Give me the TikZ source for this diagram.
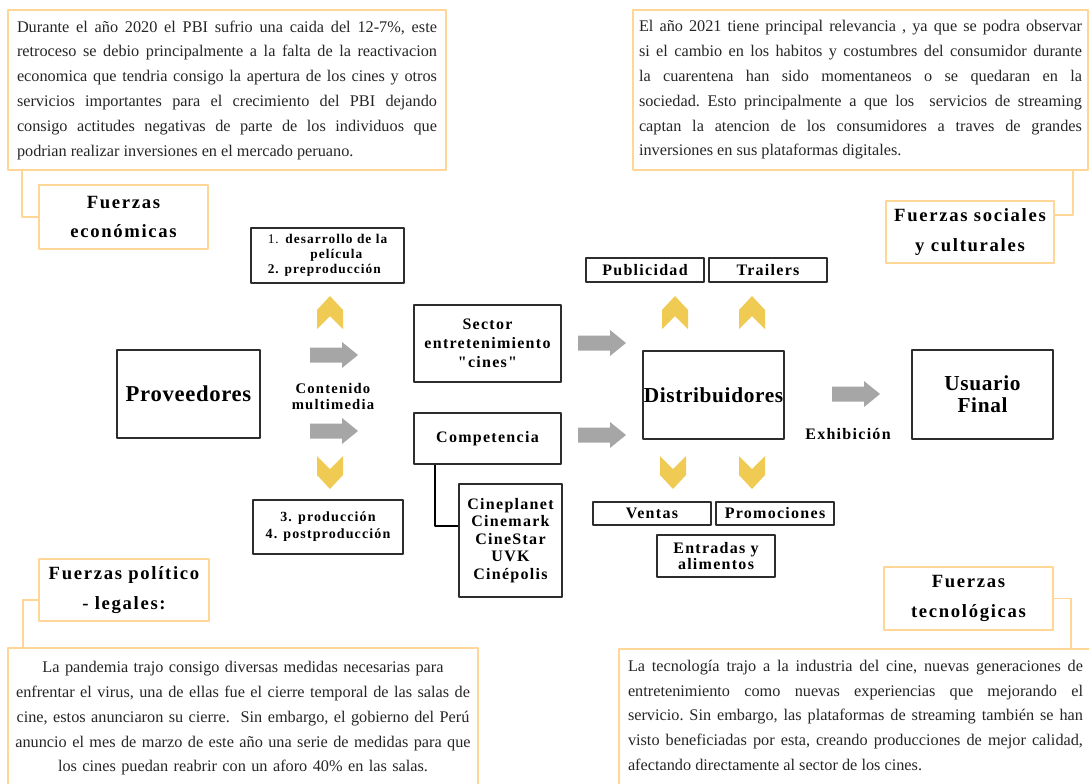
\documentclass[tikz,border=0pt]{standalone}
\usepackage{fontspec}
\setmainfont{Liberation Serif}
\newfontfamily\headserif[LetterSpace=9]{Liberation Serif}
\newfontfamily\boxserif[LetterSpace=8,Ligatures=TeXOff]{Liberation Serif}
\newfontfamily\bigserif[LetterSpace=3]{Liberation Serif}
\definecolor{peach}{RGB}{255,214,150}
\definecolor{boxgray}{RGB}{45,45,45}
\definecolor{arrowgray}{RGB}{166,166,166}
\definecolor{mustard}{RGB}{240,203,84}
\newcommand\bodytext{\fontsize{12.2}{18.6}\selectfont\parskip=0pt\parindent=0pt\frenchspacing
  \tolerance=9999\emergencystretch=2em\hyphenpenalty=10000}

\begin{document}
\begin{tikzpicture}[x=0.75pt,y=-0.75pt,line join=round,
  notebox/.style={draw=peach,line width=1.5pt,inner sep=0pt,font=\bodytext,text=black!85},
  forcebox/.style={draw=peach,line width=1.5pt,fill=white,inner sep=0pt,align=center,
    font={\headserif\bfseries\fontsize{14}{22}\selectfont}},
  forcelink/.style={draw=peach,line width=1.2pt},
  flowbox/.style={draw=boxgray,line width=1.5pt,fill=white,inner sep=0pt,align=center,
    font={\boxserif\bfseries\fontsize{12}{14.25}\selectfont}},
  bigbox/.style={flowbox,font={\bigserif\bfseries\fontsize{17}{16.5}\selectfont}},
  flowlabel/.style={align=center,font={\boxserif\bfseries\fontsize{11}{12}\selectfont}},
  tiplink/.style={draw=black,line width=1.5pt},
  chevup/.pic={\fill[mustard] (0,-17) -- (13,-3) -- (13,16) -- (0,3) -- (-13,16) -- (-13,-3) -- cycle;},
  chevdown/.pic={\fill[mustard] (0,17) -- (13,3) -- (13,-16) -- (0,-3) -- (-13,-16) -- (-13,3) -- cycle;},
  grayarrow/.pic={\fill[arrowgray] (-24,-7.5) -- (8,-7.5) -- (8,-13) -- (24,0) -- (8,13) -- (8,7.5) -- (-24,7.5) -- cycle;}]
  \path[use as bounding box,fill=white] (0,0) rectangle (1089,783);
  \clip (0,0) rectangle (1089,783);

  % the four forces, each with its note
  \node[notebox,minimum width=328.5pt,minimum height=120pt,text width=315pt,align=justify] (ecotext) at (227,90) {%
    Durante el año 2020 el PBI sufrio una caida del 12-7\%, este\linebreak
    retroceso se debio principalmente a la falta de la reactivacion\linebreak
    economica que tendria consigo la apertura de los cines y otros\linebreak
    servicios importantes para el crecimiento del PBI dejando\linebreak
    consigo actitudes negativas de parte de los individuos que\linebreak
    podrian realizar inversiones en el mercado peruano.};
  \node[notebox,minimum width=341.25pt,minimum height=120pt,text width=332.25pt,align=justify] (soctext) at (860.5,90) {%
    El año 2021 tiene principal relevancia , ya que se podra observar\linebreak
    si el cambio en los habitos y costumbres del consumidor durante\linebreak
    la cuarentena han sido momentaneos o se quedaran en la\linebreak
    sociedad. Esto principalmente a que los\ \ servicios de streaming\linebreak
    captan la atencion de los consumidores a traves de grandes\linebreak
    inversiones en sus plataformas digitales.};
  \node[notebox,anchor=north west,text width=352.5pt,align=center,inner ysep=10pt,text depth=110pt] (poltext) at (7,647) {%
    La pandemia trajo consigo diversas medidas necesarias para\\
    enfrentar el virus, una de ellas fue el cierre temporal de las salas de\\
    cine, estos anunciaron su cierre.\ \ Sin embargo, el gobierno del Perú\\
    anuncio el mes de marzo de este año una serie de medidas para que\\
    los cines puedan reabrir con un aforo 40\% en las salas.};
  \node[notebox,anchor=north west,text width=341.25pt,align=justify,inner xsep=6.75pt,inner ysep=8.25pt,text depth=110pt] (tectext) at (618,648) {%
    La tecnología trajo a la industria del cine, nuevas generaciones de\linebreak
    entretenimiento como nuevas experiencias que mejorando el\linebreak
    servicio. Sin embargo, las plataformas de streaming también se han\linebreak
    visto beneficiadas por esta, creando producciones de mejor calidad,\linebreak
    afectando directamente al sector de los cines.};

  \node[forcebox,minimum width=126.75pt,minimum height=48pt] (eco) at (123.5,217) {Fuerzas\\económicas};
  \node[forcebox,minimum width=126pt,minimum height=46.5pt] (soc) at (970,232) {Fuerzas sociales\\y culturales};
  \node[forcebox,minimum width=127.5pt,minimum height=46.5pt] (pol) at (124,590) {Fuerzas político\\- legales:};
  \node[forcebox,minimum width=126.75pt,minimum height=47.25pt] (tec) at (968.5,598.5) {Fuerzas\\tecnológicas};

  \draw[forcelink] ([xshift=11.25pt]ecotext.south west) |- (eco.west);
  \draw[forcelink] ([xshift=-12pt]soctext.south east) |- ([yshift=12.75pt]soc.east);
  \draw[forcelink] ([yshift=-7.5pt]pol.west) -| ([xshift=12pt]poltext.north west);
  \draw[forcelink] (tec.east) -| ([xshift=339.75pt]tectext.north west);

  % supply chain
  \node[bigbox,minimum width=107.25pt,minimum height=66pt] (prov) at (188.5,394) {Proveedores};
  \node[flowbox,minimum width=114.75pt,minimum height=41.25pt,font={\boxserif\bfseries\fontsize{10}{11.25}\selectfont}] (dev) at (327.5,255.5)
    {\begin{tabular}{@{}l@{\hspace{5pt}}c@{}}{\mdseries 1.}&desarrollo de la\\ &película\\ \multicolumn{2}{@{}l@{}}{2. preproducción}\end{tabular}};
  \node[flowbox,line width=2pt,minimum width=112.5pt,minimum height=40.5pt,font={\boxserif\bfseries\fontsize{10.5}{12.75}\selectfont}] (prod) at (328,527)
    {3. producción\\4. postproducción};
  \node[flowlabel] (cont) at (333,396) {Contenido\\multimedia};

  \node[flowbox,minimum width=110.25pt,minimum height=57.75pt] (sector) at (487.5,343.5) {Sector\\entretenimiento\\"cines"};
  \node[flowbox,minimum width=110.25pt,minimum height=38.25pt] (comp) at (487.5,438.5) {Competencia};
  \node[flowbox,minimum width=77.25pt,minimum height=84.75pt,font={\boxserif\bfseries\fontsize{12}{13.1}\selectfont}] (cines) at (510.5,540.5)
    {Cineplanet\\Cinemark\\CineStar\\UVK\\Cinépolis};
  \draw[tiplink] ([xshift=16.5pt]comp.south west) |- ([yshift=10.9pt]cines.west);

  \node[bigbox,minimum width=105.75pt,minimum height=66pt,font={\bigserif\bfseries\fontsize{16}{16.5}\selectfont}] (dist) at (713.5,395) {Distribuidores};
  \node[flowbox,minimum width=88.5pt,minimum height=18pt] (pub) at (645,270) {Publicidad};
  \node[flowbox,minimum width=88.5pt,minimum height=18pt] (trl) at (768,270) {Trailers};
  \node[flowbox,minimum width=88.5pt,minimum height=17.25pt] (ven) at (652,513.5) {Ventas};
  \node[flowbox,minimum width=88.5pt,minimum height=17.25pt] (promo) at (775,513.5) {Promociones};
  \node[flowbox,minimum width=88.5pt,minimum height=31.5pt,font={\boxserif\bfseries\fontsize{12}{12}\selectfont}] (ent) at (716,556) {Entradas y\\alimentos};

  \node[flowlabel,font={\boxserif\bfseries\fontsize{12}{14}\selectfont}] (exh) at (848,434) {Exhibición};
  \node[bigbox,minimum width=105.75pt,minimum height=66.75pt,font={\bigserif\bfseries\fontsize{16}{16.5}\selectfont}] (usr) at (982.5,394.5) {Usuario\\Final};

  \foreach \p in {(330,313),(675,313),(752,313)} \pic at \p {chevup};
  \foreach \p in {(330,472),(673,472),(752,472)} \pic at \p {chevdown};
  \foreach \p in {(334,355),(334,431),(602,343),(602,435),(856,394)} \pic at \p {grayarrow};
\end{tikzpicture}
\end{document}
